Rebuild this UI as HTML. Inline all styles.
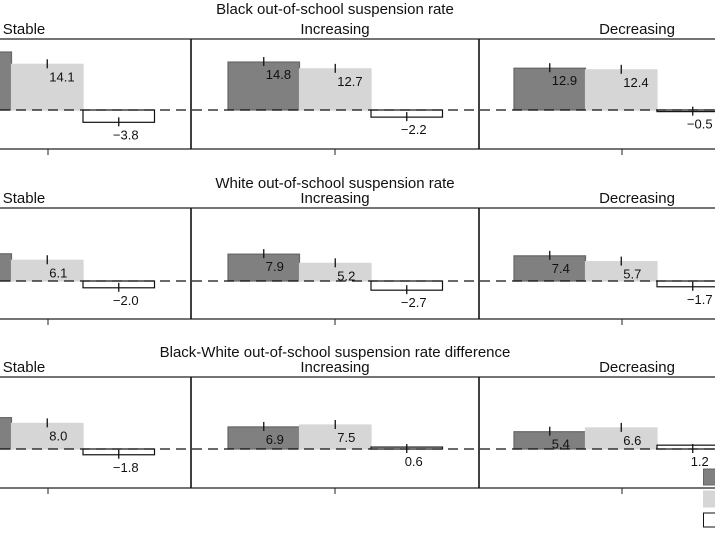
<!DOCTYPE html>
<html><head><style>body{margin:0;background:#fff}svg{display:block}text{font-family:"Liberation Sans",sans-serif;fill:#111}</style></head><body>
<svg width="715" height="550" viewBox="0 0 715 550" xmlns="http://www.w3.org/2000/svg">
<g id="all"></g>
</svg>
<script>
const rows=[
 {title:"Black out-of-school suspension rate",ty:14,top:39,bot:149,zero:110,s:3.24,
  vals:[[17.9,14.1,-3.8],[14.8,12.7,-2.2],[12.9,12.4,-0.5]],lab:[["9","14.1","\u22123.8"],["14.8","12.7","\u22122.2"],["12.9","12.4","\u22120.5"]]},
 {title:"White out-of-school suspension rate",ty:188,top:208,bot:319,zero:281,s:3.4,
  vals:[[8.0,6.1,-2.0],[7.9,5.2,-2.7],[7.4,5.7,-1.7]],lab:[["","6.1","\u22122.0"],["7.9","5.2","\u22122.7"],["7.4","5.7","\u22121.7"]]},
 {title:"Black-White out-of-school suspension rate difference",ty:357,top:377,bot:488,zero:449,s:3.2,
  vals:[[9.8,8.0,-1.8],[6.9,7.5,0.6],[5.4,6.6,1.2]],lab:[["","8.0","\u22121.8"],["6.9","7.5","0.6"],["5.4","6.6","1.2"]]}
];
const px=[-60,228,514];
const sub=["Stable","Increasing","Decreasing"],subx=[24,335,637];
let h="";
rows.forEach(r=>{
 h+=`<text x="335" y="${r.ty}" font-size="15" text-anchor="middle">${r.title}</text>`;
 sub.forEach((t,i)=>h+=`<text x="${subx[i]}" y="${r.top-5}" font-size="15" text-anchor="middle">${t}</text>`);
 h+=`<line x1="0" y1="${r.top}" x2="715" y2="${r.top}" stroke="#222" stroke-width="1.3"/>`;
 h+=`<line x1="0" y1="${r.bot}" x2="715" y2="${r.bot}" stroke="#222" stroke-width="1.3"/>`;
 [191,479].forEach(x=>h+=`<line x1="${x}" y1="${r.top}" x2="${x}" y2="${r.bot}" stroke="#111" stroke-width="1.6"/>`);
 [48,335,622].forEach(x=>h+=`<line x1="${x}" y1="${r.bot}" x2="${x}" y2="${r.bot+6}" stroke="#222"/>`);
 r.vals.forEach((vs,p)=>{
  vs.forEach((v,k)=>{
   const x=px[p]+k*71.5,w=71.5,hh=Math.abs(v)*r.s;
   const y=v>=0?r.zero-hh:r.zero;
   const fill=["#808080","#d6d6d6","#fff"][k],st=["#666","#d6d6d6","#111"][k];
   h+=`<rect x="${x}" y="${y}" width="${w}" height="${Math.max(hh,1.5)}" fill="${fill}" stroke="${st}" stroke-width="1.2"/>`;
   const cx=x+w/2;
   if(v>=0 && k<2){h+=`<line x1="${cx}" y1="${y-5}" x2="${cx}" y2="${y+4}" stroke="#111" stroke-width="1.3"/>`;
    h+=`<text x="${cx+2}" y="${y+17}" font-size="13">${r.lab[p][k]}</text>`;}
   else{const yb=v<0?r.zero+hh:r.zero;h+=`<line x1="${cx}" y1="${yb-5}" x2="${cx}" y2="${yb+4}" stroke="#111" stroke-width="1.3"/>`;
    h+=`<text x="${cx+7}" y="${yb+17}" font-size="13" text-anchor="middle">${r.lab[p][k]}</text>`;}
  });
 });
 h+=`<line x1="0" y1="${r.zero}" x2="715" y2="${r.zero}" stroke="#111" stroke-width="1.3" stroke-dasharray="10,6"/>`;
});
h+=`<rect x="703.5" y="469" width="14" height="16" fill="#808080" stroke="#666"/>`;
h+=`<rect x="703.5" y="491" width="14" height="16" fill="#d6d6d6" stroke="#d6d6d6"/>`;
h+=`<rect x="703.5" y="513" width="14" height="14" fill="#fff" stroke="#111"/>`;
document.getElementById("all").innerHTML=h;
</script>
</body></html>
